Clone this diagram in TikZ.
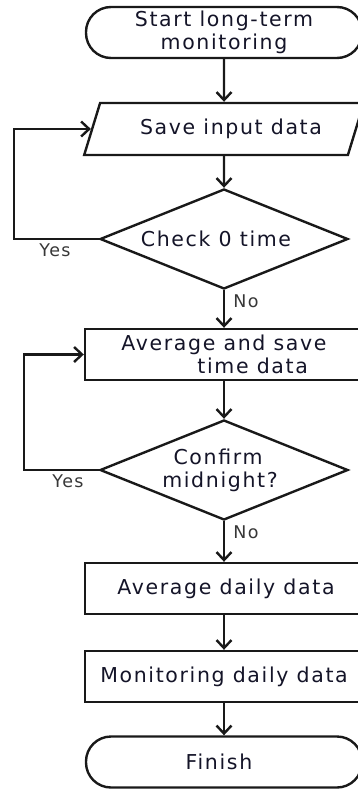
\documentclass[tikz,border=0pt]{standalone}
\usepackage{fontspec}
\setmainfont{DejaVu Sans}[LetterSpace=8.0]
\usetikzlibrary{shapes.geometric,arrows.meta}
\definecolor{ink}{RGB}{20,20,40}
\definecolor{lbl}{RGB}{55,55,55}
\tikzset{
  every node/.style={font=\fontsize{20.5}{23}\selectfont, text=ink},
  shp/.style={draw=black!90, line width=2.4pt, inner sep=0pt},
  termbox/.style={shp, rectangle, rounded corners=25pt, minimum width=276pt, minimum height=51pt},
  iobox/.style={shp, trapezium, trapezium left angle=57.6, trapezium right angle=122.4, trapezium stretches=true, minimum width=280pt, minimum height=52pt},
  procbox/.style={shp, rectangle, minimum width=278pt, minimum height=51pt},
  decbox/.style={shp, diamond, aspect=2.5, minimum width=248pt, minimum height=100pt},
  flow/.style={draw=black!90, line width=2.4pt, -{Straight Barb[length=8pt,width=15pt,line width=2.4pt]}},
  lab/.style={font=\fontsize{17.5}{19}\selectfont, text=lbl}
}
\begin{document}
\begin{tikzpicture}[x=1pt,y=-1pt]
\useasboundingbox (0,0) rectangle (358,789);
\clip (0,0) rectangle (358,789);
\node[termbox, align=center] (start) at (224,32.5) {Start long-term\\monitoring};
\node[iobox] (save) at (224,129) {\hspace*{14pt}Save input data};
\node[decbox] (check) at (224,239) {\hspace*{-16pt}Check 0 time};
\node[procbox, align=left] (avg) at (224,354.5) {Average and save\\\hspace*{76pt}time data};
\node[decbox, align=center] (mid) at (224,470) {\hspace*{-12pt}Confirm\\\hspace*{-8pt}midnight?};
\node[procbox] (daily) at (224,588.5) {\hspace*{4pt}Average daily data};
\node[procbox] (mon) at (224,676.5) {Monitoring daily data};
\node[termbox] (fin) at (224,762) {\hspace*{-10pt}Finish};
\coordinate (l1a) at (14,239);
\coordinate (l1b) at (14,129);
\coordinate (l2a) at (24,470);
\coordinate (l2b) at (24,354.5);
\draw[flow] (start) -- (save);
\draw[flow] (save) -- (check);
\draw[flow] (check) -- (avg);
\draw[flow] (avg) -- (mid);
\draw[flow] (mid) -- (daily);
\draw[flow] (daily) -- (mon);
\draw[flow] (mon) -- (fin);
\draw[flow] (check.west) -- (l1a) -- (l1b) -- (save.west);
\draw[flow] (mid.west) -- (l2a) -- (l2b) -- (avg.west);
\node[lab] (y1) at (55,250) {Yes};
\node[lab] (y2) at (68,481) {Yes};
\node[lab] (n1) at (246,301) {No};
\node[lab] (n2) at (246,532) {No};
\end{tikzpicture}
\end{document}
